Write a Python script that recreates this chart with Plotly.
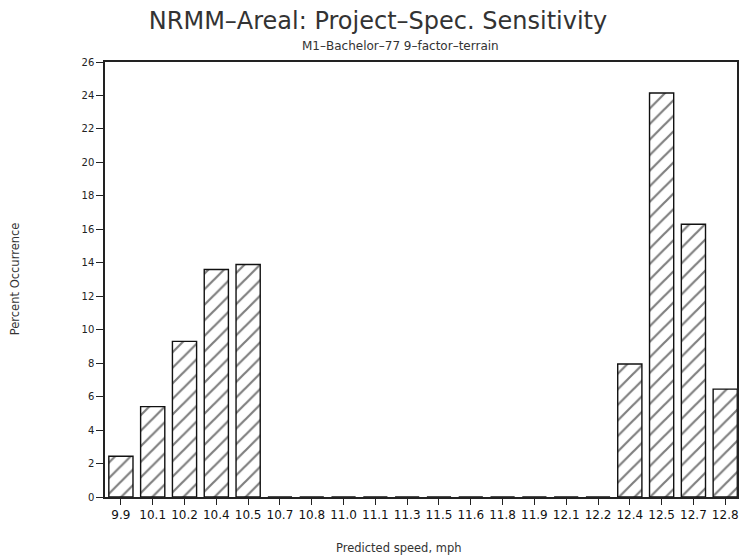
import plotly.graph_objects as go

speeds = ["9.9", "10.1", "10.2", "10.4", "10.5", "10.7", "10.8", "11.0", "11.1", "11.3",
          "11.5", "11.6", "11.8", "11.9", "12.1", "12.2", "12.4", "12.5", "12.7", "12.8"]
percent = [2.44, 5.4, 9.3, 13.6, 13.9, 0, 0, 0, 0, 0,
           0, 0, 0, 0, 0, 0, 7.95, 24.15, 16.3, 6.45]
y_ticks = list(range(0, 27, 2))

title = "NRMM\u2013Areal: Project\u2013Spec. Sensitivity"
subtitle = "M1\u2013Bachelor\u201377 9\u2013factor\u2013terrain"

fig = go.Figure(go.Bar(
    x=speeds, y=percent, width=0.76,
    marker=dict(color="white",
                line=dict(color="#111", width=1.4),
                pattern=dict(shape="/", fgcolor="#000", bgcolor="white", size=11, solidity=0.2)),
    hoverinfo="x+y",
))

# plot area: x 105..739 px, y 62..497 px
fig.update_layout(
    width=747, height=560,
    paper_bgcolor="white", plot_bgcolor="white",
    margin=dict(l=105, r=8, t=62, b=63),
    showlegend=False,
    title=dict(text=title, x=378 / 747, xanchor="center", y=1 - 21 / 560, yanchor="middle",
               yref="container",
               font=dict(family="DejaVu Sans", size=24, color="#333")),
    annotations=[
        dict(text=subtitle, xref="paper", yref="paper", x=(401 - 105) / 634, y=(497 - 46) / 435,
             xanchor="center", yanchor="middle", showarrow=False,
             font=dict(family="DejaVu Sans", size=12, color="#333")),
        dict(text="Predicted speed, mph", xref="paper", yref="paper",
             x=(399 - 105) / 634, y=(497 - 548) / 435,
             xanchor="center", yanchor="middle", showarrow=False,
             font=dict(family="DejaVu Sans", size=11.5, color="#333")),
        dict(text="Percent Occurrence", xref="paper", yref="paper",
             x=(15 - 105) / 634, y=(497 - 279) / 435, textangle=-90,
             xanchor="center", yanchor="middle", showarrow=False,
             font=dict(family="DejaVu Sans", size=11.5, color="#333")),
    ],
)

fig.update_xaxes(
    type="category", range=[-0.5, 19.37],
    showline=True, mirror=True, linecolor="#222", linewidth=1.5,
    ticks="outside", ticklen=6, tickcolor="#222", tickwidth=1.3,
    tickangle=0, tickfont=dict(family="DejaVu Sans", size=12, color="#111"),
    showgrid=False, zeroline=False,
)
fig.update_yaxes(
    range=[0, 26], tickvals=y_ticks,
    showline=True, mirror=True, linecolor="#222", linewidth=1.5,
    ticks="outside", ticklen=7, tickcolor="#222", tickwidth=1.3,
    tickfont=dict(family="DejaVu Sans", size=10, color="#222"),
    showgrid=False, zeroline=False,
)

fig.write_html("out.html")
